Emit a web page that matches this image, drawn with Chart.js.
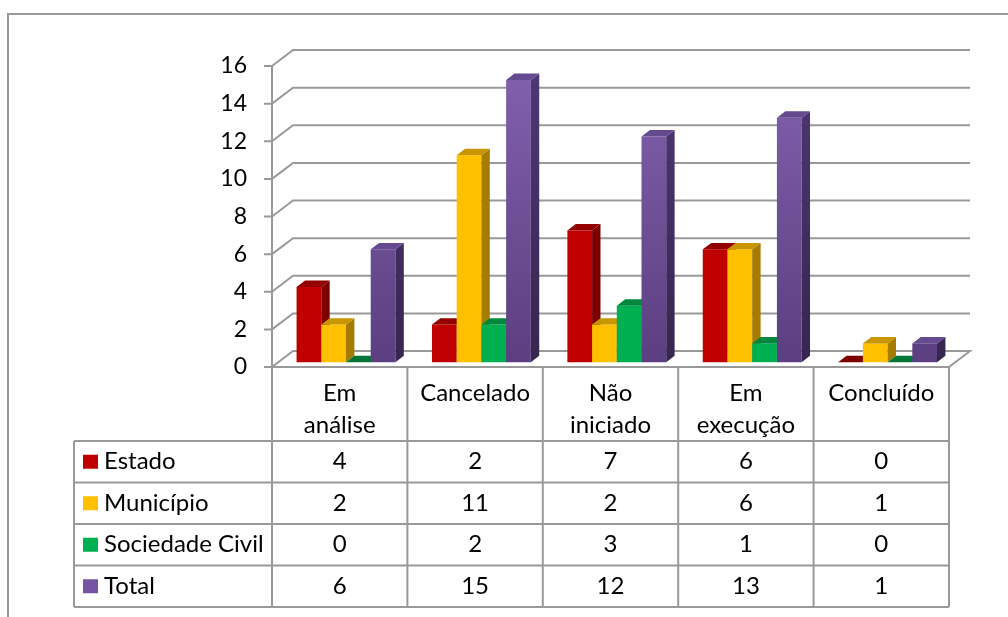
<!DOCTYPE html>
<html>
<head>
<meta charset="utf-8">
<script src="https://cdn.jsdelivr.net/npm/chart.js@4.4.1/dist/chart.umd.min.js"></script>
<style>
  html, body { margin: 0; padding: 0; background: #fff; }
  #wrap { width: 1008px; height: 617px; }
</style>
</head>
<body>
<div id="wrap"><canvas id="grafico" width="1008" height="617"></canvas></div>
<script>
// dados
const categorias = [['Em', 'análise'], 'Cancelado', ['Não', 'iniciado'], ['Em', 'execução'], 'Concluído'];
const series = ['Estado', 'Município', 'Sociedade Civil', 'Total'];
const estado = [4, 2, 7, 6, 0];
const municipio = [2, 11, 2, 6, 1];
const sociedadeCivil = [0, 2, 3, 1, 0];
const total = [6, 15, 12, 13, 1];
const yMax = 16;
const yPasso = 2;

// cores de cada serie: frente, lateral, topo
const cores = [
    { frente: '#C00000', lado: '#7C0000', topo: '#930000', marca: '#C00000' },
    { frente: '#FFC000', lado: '#A67C00', topo: '#C89600', marca: '#FFC000' },
    { frente: '#00B050', lado: '#007636', topo: '#00883E', marca: '#00B050' },
    { frente: null, lado: '#45326A', topo: '#664A90', marca: '#7453A3' }
];

// profundidade das paredes e posicao das barras nela
const PROF = { x: 21, y: -16 };
const FRENTE = 0.3;
const ESPESSURA = 0.4;
const FONTE = 'Lato, "Open Sans", sans-serif';

Chart.defaults.font.family = FONTE;
Chart.defaults.color = '#000';

const gradRoxo = (ctx, area, c1, c2) => {
    const g = ctx.createLinearGradient(0, area.top, 0, area.bottom);
    g.addColorStop(0, c1);
    g.addColorStop(1, c2);
    return g;
};

const barras3d = {
    id: 'barras3d',
    beforeDatasetsDraw(chart) {
        const ctx = chart.ctx;
        const area = chart.chartArea;
        const { left, right, bottom } = area;
        const ys = chart.scales.y;
        ctx.save();
        ctx.lineWidth = 2;
        ctx.strokeStyle = '#999';

        // chao
        ctx.beginPath();
        ctx.moveTo(left, bottom);
        ctx.lineTo(right, bottom);
        ctx.lineTo(right + PROF.x, bottom + PROF.y);
        ctx.lineTo(left + PROF.x, bottom + PROF.y);
        ctx.closePath();
        ctx.fillStyle = '#fff';
        ctx.fill();
        ctx.stroke();

        // linhas de grade na parede lateral e no fundo
        ctx.beginPath();
        for (let v = yPasso; v <= yMax; v += yPasso) {
            const py = ys.getPixelForValue(v);
            ctx.moveTo(left, py);
            ctx.lineTo(left + PROF.x, py + PROF.y);
            ctx.lineTo(right + PROF.x, py + PROF.y);
        }
        ctx.stroke();

        // eixo vertical e marcas
        ctx.beginPath();
        ctx.moveTo(left, ys.getPixelForValue(yMax));
        ctx.lineTo(left, bottom);
        for (let v = 0; v <= yMax; v += yPasso) {
            const py = ys.getPixelForValue(v);
            ctx.moveTo(left - 8, py);
            ctx.lineTo(left, py);
        }
        ctx.stroke();

        // barras, da esquerda para a direita
        const ex = PROF.x * ESPESSURA, ey = PROF.y * ESPESSURA;
        ctx.translate(PROF.x * FRENTE, PROF.y * FRENTE);
        const metas = chart.getSortedVisibleDatasetMetas();
        const ladoRoxo = gradRoxo(ctx, area, '#4E3878', '#36264F');
        for (let i = 0; i < categorias.length; i++) {
            metas.forEach(meta => {
                const bar = meta.data[i];
                const c = cores[meta.index];
                const { x, y, base, width } = bar.getProps(['x', 'y', 'base', 'width'], true);
                const l = x - width / 2, r = x + width / 2;
                bar.draw(ctx);

                // lateral
                ctx.beginPath();
                ctx.moveTo(r, y);
                ctx.lineTo(r + ex, y + ey);
                ctx.lineTo(r + ex, base + ey);
                ctx.lineTo(r, base);
                ctx.closePath();
                ctx.fillStyle = meta.index === 3 ? ladoRoxo : c.lado;
                ctx.fill();

                // topo
                ctx.beginPath();
                ctx.moveTo(l, y);
                ctx.lineTo(r, y);
                ctx.lineTo(r + ex, y + ey);
                ctx.lineTo(l + ex, y + ey);
                ctx.closePath();
                ctx.fillStyle = base - y < 1 ? c.lado : c.topo;
                ctx.fill();
            });
        }
        ctx.restore();
        return false;
    },
    afterDraw(chart) {
        const ctx = chart.ctx;
        const xs = chart.scales.x;
        const { left, right, bottom } = chart.chartArea;
        const passo = (right - left) / categorias.length;
        const topoTab = 441, alturaLinha = 41.5, esq = 74;
        const fimTab = topoTab + series.length * alturaLinha;
        ctx.save();
        ctx.strokeStyle = '#999';
        ctx.lineWidth = 2;

        // grade da tabela
        ctx.beginPath();
        for (let k = 0; k <= categorias.length; k++) {
            const px = left + k * passo;
            ctx.moveTo(px, bottom);
            ctx.lineTo(px, fimTab);
        }
        for (let r = 0; r <= series.length; r++) {
            const py = topoTab + r * alturaLinha;
            ctx.moveTo(esq, py);
            ctx.lineTo(right, py);
        }
        ctx.moveTo(esq, topoTab);
        ctx.lineTo(esq, fimTab);
        ctx.stroke();

        // valores e legenda
        ctx.font = '24px ' + FONTE;
        ctx.textBaseline = 'middle';
        chart.data.datasets.forEach((ds, r) => {
            const cy = topoTab + (r + 0.5) * alturaLinha;
            ctx.fillStyle = cores[r].marca;
            ctx.fillRect(83, cy - 7, 15, 14);
            ctx.fillStyle = '#000';
            ctx.textAlign = 'left';
            ctx.fillText(ds.label, 104, cy);
            ctx.textAlign = 'center';
            ds.data.forEach((v, i) => ctx.fillText(String(v), xs.getPixelForValue(i), cy));
        });

        // moldura
        ctx.beginPath();
        ctx.moveTo(1008, 14);
        ctx.lineTo(8, 14);
        ctx.lineTo(8, 617);
        ctx.stroke();
        ctx.restore();
    }
};

const valores = [estado, municipio, sociedadeCivil, total];

const chart = new Chart('grafico', {
    type: 'bar',
    data: {
        labels: categorias,
        datasets: series.map((nome, k) => ({
            label: nome,
            data: valores[k],
            backgroundColor: k === 3
                ? (c) => c.chart.chartArea ? gradRoxo(c.chart.ctx, c.chart.chartArea, '#8261AE', '#5B3F80') : '#7453A3'
                : cores[k].frente,
            borderWidth: 0,
            categoryPercentage: 0.73,
            barPercentage: 1
        }))
    },
    options: {
        responsive: false,
        animation: false,
        layout: { padding: { top: 66, right: 59, left: 0, bottom: 0 } },
        plugins: { legend: { display: false }, tooltip: { enabled: false } },
        scales: {
            x: {
                grid: { display: false, drawTicks: false },
                border: { display: false },
                ticks: { padding: 10, font: { size: 24, lineHeight: '32px' }, maxRotation: 0, autoSkip: false },
                afterFit: (s) => { s.height = 250; }
            },
            y: {
                min: 0,
                max: yMax,
                grid: { display: false, drawTicks: false },
                border: { display: false },
                ticks: { stepSize: yPasso, padding: 25, font: { size: 23 } },
                afterFit: (s) => { s.width = 272; }
            }
        }
    },
    plugins: [barras3d]
});
</script>
</body>
</html>
